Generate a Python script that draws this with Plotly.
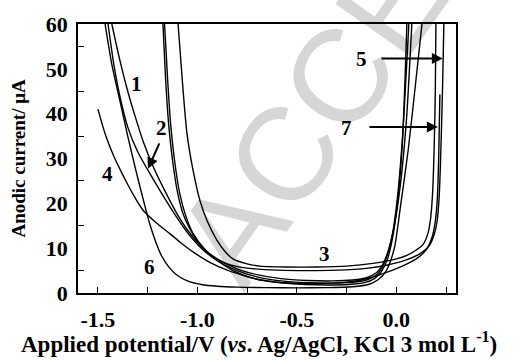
import plotly.graph_objects as go

# Anodic sweeps: potential (V vs Ag/AgCl) and current (uA) for each electrode
x1 = [-1.43, -1.39, -1.35, -1.31, -1.27, -1.22, -1.16, -1.10, -1.04, -0.97, -0.90, -0.80, -0.70,
      -0.58, -0.45, -0.32, -0.22, -0.15, -0.10, -0.07, -0.04, -0.01, 0.02, 0.05, 0.078]
y1 = [60, 52, 45, 39, 33.5, 28, 22.5, 17.5, 13.5, 10, 7.6, 5.4, 4.1,
      3.2, 2.8, 2.7, 2.9, 3.4, 4.5, 6.2, 9.5, 15, 24, 38, 60]

x2 = [-1.449, -1.42, -1.39, -1.35, -1.30, -1.25, -1.19, -1.12, -1.05, -0.98, -0.90, -0.80, -0.70,
      -0.58, -0.45, -0.32, -0.22, -0.15, -0.10, -0.07, -0.045, -0.02, 0.005, 0.03, 0.063]
y2 = [60, 51, 44, 37, 31.5, 27.5, 23, 18, 13.5, 10, 7.2, 5.0, 3.6,
      2.7, 2.3, 2.2, 2.4, 2.9, 4.0, 5.8, 8.5, 13, 21, 34, 60]

x3 = [-1.097, -1.075, -1.052, -1.02, -0.987, -0.95, -0.902, -0.86, -0.821, -0.75, -0.685, -0.55,
      -0.40, -0.25, -0.118, 0.0, 0.053, 0.10, 0.134, 0.159, 0.172, 0.182, 0.19, 0.196, 0.199]
y3 = [60, 47, 35.5, 27, 20.6, 16, 11.8, 9.2, 7.6, 6.5, 6.0, 5.8,
      5.8, 6.0, 6.6, 7.6, 8.4, 9.6, 10.8, 13.3, 16.5, 22, 32, 45, 60]

x4 = [-1.50, -1.46, -1.42, -1.38, -1.35, -1.31, -1.27, -1.21, -1.14, -1.08, -1.02, -0.94, -0.85,
      -0.76, -0.685, -0.58, -0.46, -0.34, -0.24, -0.16, -0.11, -0.075, -0.045, -0.02, 0.005, 0.03, 0.053]
y4 = [41, 35, 30.5, 26.8, 24.2, 21, 18.3, 15.8, 13.3, 11.1, 9.1, 6.9, 5.1,
      3.8, 2.9, 2.3, 1.9, 1.8, 1.9, 2.3, 3.2, 4.8, 7.5, 12, 20, 33, 60]

x5 = [-1.173, -1.16, -1.145, -1.123, -1.10, -1.072, -1.04, -1.0, -0.95, -0.90, -0.83, -0.74, -0.60,
      -0.45, -0.30, -0.15, -0.05, 0.05, 0.12, 0.165, 0.19, 0.205, 0.216, 0.226, 0.233, 0.239]
y5 = [60, 48, 38, 29, 22.5, 17.7, 14.5, 11.6, 9, 7.4, 6.2, 5.5, 5.1,
      5.0, 5.1, 5.5, 6.2, 7.4, 8.8, 10.5, 13, 16, 22, 35, 47, 60]

x6 = [-1.464, -1.43, -1.39, -1.35, -1.31, -1.27, -1.24, -1.21, -1.18, -1.14, -1.10, -1.05, -0.98,
      -0.90, -0.80, -0.65, -0.50, -0.35, -0.22, -0.14, -0.09, -0.05, -0.01, 0.02, 0.06, 0.095, 0.129]
y6 = [60, 51, 43, 35, 27.5, 20.5, 15.5, 11.5, 8.3, 5.6, 3.9, 2.7, 1.9,
      1.5, 1.3, 1.2, 1.15, 1.2, 1.4, 1.9, 3.0, 5, 10, 19, 32, 46, 60]

x7 = [-1.165, -1.15, -1.135, -1.113, -1.09, -1.062, -1.022, -0.96, -0.902, -0.82, -0.736, -0.65, -0.57,
      -0.45, -0.33, -0.22, -0.13, -0.05, 0.03, 0.10, 0.15, 0.18, 0.196, 0.206, 0.213, 0.219]
y7 = [60, 48, 38, 29, 22.5, 17.7, 13.3, 9.6, 7.3, 5.0, 3.5, 2.7, 2.3,
      2.1, 2.2, 2.6, 3.4, 4.6, 6.0, 7.6, 9.6, 12.5, 16, 21, 30, 44.3]

series = [(x1, y1), (x2, y2), (x3, y3), (x4, y4), (x5, y5), (x6, y6), (x7, y7)]
names = ["1", "2", "3", "4", "5", "6", "7"]

x_ticks = [-1.5, -1.0, -0.5, 0.0]
x_tick_text = ["-1.5", "-1.0", "-0.5", "0.0"]
y_ticks = [0, 10, 20, 30, 40, 50, 60]
y_tick_text = ["0", "10", "20", "30", "40", "50", "60"]

SERIF = "Liberation Serif, Times New Roman, serif"
tick_font = dict(family=SERIF, size=22, color="black", weight="bold")
label_font = dict(family=SERIF, size=21, color="black", weight="bold")

fig = go.Figure()
for (xs, ys), n in zip(series, names):
    fig.add_trace(go.Scatter(x=xs, y=ys, mode="lines", name=n,
                             line=dict(color="black", width=1.4, shape="spline", smoothing=0.7),
                             showlegend=False, hoverinfo="skip"))

annotations = [
    # watermark
    dict(text="ACCEPTED", xref="paper", yref="paper", x=0.886, y=1.192,
         xanchor="center", yanchor="middle", textangle=-55, showarrow=False,
         font=dict(family="Liberation Sans, Arial, sans-serif", size=132, color="rgba(0,0,0,0.16)")),
    # axis titles
    dict(text="Applied potential/V (<i>vs</i>. Ag/AgCl, KCl 3 mol L<sup>-1</sup>)",
         xref="paper", yref="paper", x=0.479, y=-0.1845, xanchor="center", yanchor="middle",
         showarrow=False, font=dict(family=SERIF, size=23, color="black", weight="bold")),
    dict(text="Anodic current/ μA", xref="paper", yref="paper", x=-0.1587, y=0.5,
         xanchor="center", yanchor="middle", textangle=-90, showarrow=False,
         font=dict(family=SERIF, size=19, color="black", weight="bold")),
    # curve labels
    dict(text="1", x=-1.304, y=46.6, showarrow=False, font=label_font),
    dict(text="3", x=-0.359, y=8.6, showarrow=False, font=label_font),
    dict(text="4", x=-1.454, y=26.6, showarrow=False, font=label_font),
    dict(text="6", x=-1.243, y=5.8, showarrow=False, font=label_font),
    dict(text="2", x=-1.178, y=36.8, showarrow=False, font=label_font),
    dict(text="5", x=-0.173, y=52.1, showarrow=False, font=label_font),
    dict(text="7", x=-0.248, y=36.8, showarrow=False, font=label_font),
    # arrows
    dict(text="", x=-1.248, y=27.7, ax=-1.188, ay=33.7, axref="x", ayref="y",
         showarrow=True, arrowhead=2, arrowsize=1.1, arrowwidth=2, arrowcolor="black"),
    dict(text="", x=0.234, y=52.3, ax=-0.082, ay=52.3, axref="x", ayref="y",
         showarrow=True, arrowhead=2, arrowsize=1.1, arrowwidth=2, arrowcolor="black"),
    dict(text="", x=0.209, y=37.0, ax=-0.143, ay=37.0, axref="x", ayref="y",
         showarrow=True, arrowhead=2, arrowsize=1.1, arrowwidth=2, arrowcolor="black"),
]

fig.update_layout(
    width=518, height=361,
    margin=dict(l=78, r=62, t=22, b=68),
    paper_bgcolor="white", plot_bgcolor="white",
    annotations=annotations,
    xaxis=dict(range=[-1.6, 0.3], tickvals=x_ticks, ticktext=x_tick_text,
               ticks="inside", ticklen=6, tickwidth=1.3, tickcolor="black",
               minor=dict(dtick=0.25, tick0=0, ticks="inside", ticklen=6, tickwidth=1.3, tickcolor="black"),
               showline=True, linecolor="black", linewidth=1.8, mirror=True,
               showgrid=False, zeroline=False, tickfont=tick_font, ticklabelstandoff=6),
    yaxis=dict(range=[0, 60], tickvals=y_ticks, ticktext=y_tick_text, ticks="",
               minor=dict(tickvals=[5, 15, 25, 35, 45, 55], ticks="inside", ticklen=6,
                          tickwidth=1.3, tickcolor="black"),
               showline=True, linecolor="black", linewidth=1.8, mirror=True,
               showgrid=False, zeroline=False, tickfont=tick_font, ticklabelstandoff=4),
)

fig.write_html("out.html")
